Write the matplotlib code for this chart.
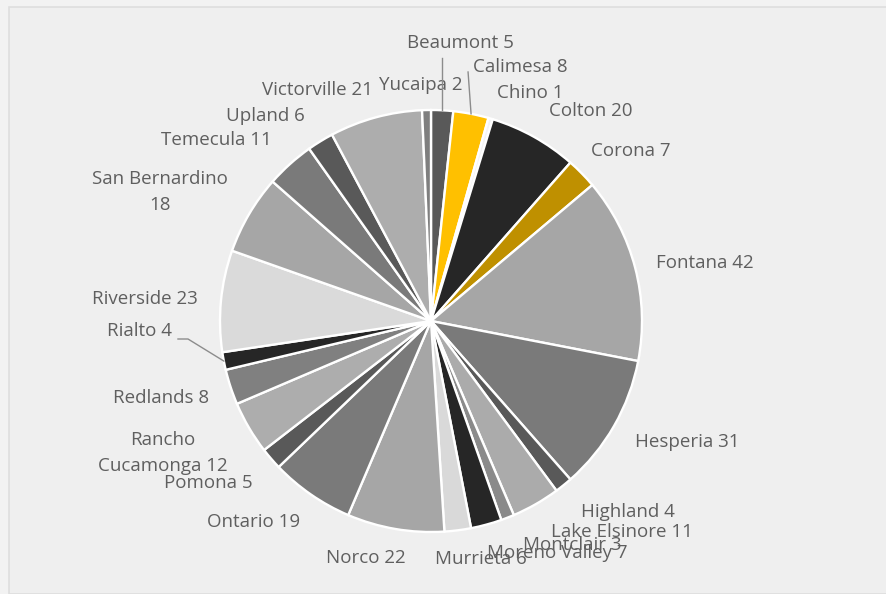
import matplotlib
matplotlib.use("Agg")
import matplotlib.pyplot as plt
from matplotlib.patches import Rectangle
import numpy as np

categories = ["Beaumont", "Calimesa", "Chino", "Colton", "Corona", "Fontana",
              "Hesperia", "Highland", "Lake Elsinore", "Montclair", "Moreno Valley",
              "Murrieta", "Norco", "Ontario", "Pomona", "Rancho Cucamonga",
              "Redlands", "Rialto", "Riverside", "San Bernardino", "Temecula",
              "Upland", "Victorville", "Yucaipa"]
values = [5, 8, 1, 20, 7, 42, 31, 4, 11, 3, 7, 6, 22, 19, 5, 12, 8, 4, 23, 18, 11, 6, 21, 2]

colors = ["#595959", "#FFC000", "#F4F4F4", "#262626", "#BF9000", "#A6A6A6",
          "#7A7A7A", "#595959", "#ABABAB", "#8A8A8A", "#262626", "#D9D9D9",
          "#A6A6A6", "#7A7A7A", "#595959", "#ADADAD", "#808080", "#262626",
          "#DADADA", "#A6A6A6", "#7A7A7A", "#595959", "#ADADAD", "#7F7F7F"]

# label texts (Excel style: "Category value")
label_texts = [f"{c} {v}" for c, v in zip(categories, values)]
label_texts[15] = f"Rancho\nCucamonga {values[15]}"
label_texts[19] = f"San Bernardino\n{values[19]}"

# label centre positions in pixels (layout)
label_pos = [(460, 43), (520, 67), (530, 93), (591, 111), (631, 151), (705, 263),
             (687, 442), (628, 512), (622, 532), (572, 545), (557, 553), (481, 559),
             (366, 558), (254, 522), (208, 483), (163, 453), (161, 398), (140, 331),
             (145, 299), (160, 192), (216, 140), (265, 116), (317, 90), (421, 85)]

W, H = 887, 594
CX, CY, R = 431, 321, 211

fig = plt.figure(figsize=(W / 100, H / 100), dpi=100)
fig.patch.set_facecolor("#F2F2F2")
ax = fig.add_axes([0, 0, 1, 1])
ax.add_patch(Rectangle((9.5, 0), W, H - 7, facecolor="#EFEFEF",
                       edgecolor="#DEDEDE", linewidth=1.2, zorder=0))

wedges, _ = ax.pie(values, colors=colors, startangle=90, counterclock=False,
                   center=(CX, H - CY), radius=R,
                   wedgeprops=dict(edgecolor="white", linewidth=1.7))
for w in wedges:
    w.set_zorder(2)

ax.set_xlim(0, W)
ax.set_ylim(0, H)
ax.set_aspect("equal")
ax.axis("off")

txt_color = "#5F5F5F"
for i, (t, (x, y)) in enumerate(zip(label_texts, label_pos)):
    ax.text(x, H - y, t, ha="center", va="center", fontsize=13.5,
            color=txt_color, family="Open Sans", linespacing=1.6, zorder=3)

# leader lines for Beaumont, Calimesa, Rialto
def rim_point(idx):
    w = wedges[idx]
    ang = np.deg2rad((w.theta1 + w.theta2) / 2)
    return CX + R * np.cos(ang), (H - CY) + R * np.sin(ang)

lc = "#8C8C8C"
bx, by = rim_point(0)
ax.plot([bx, bx], [H - 58, by], color=lc, lw=1, zorder=3)
cx_, cy_ = rim_point(1)
ax.plot([cx_ - 3, cx_], [H - 72, cy_], color=lc, lw=1, zorder=3)
rx, ry = rim_point(17)
ax.plot([178, 188, rx], [H - 339, H - 339, ry], color=lc, lw=1, zorder=3)

fig.savefig("out.png", dpi=100, facecolor=fig.get_facecolor())
